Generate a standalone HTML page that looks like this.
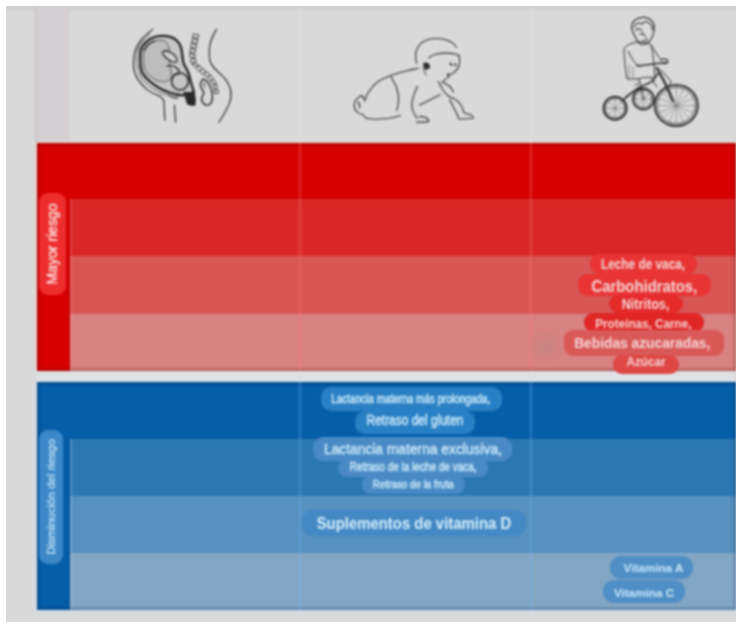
<!DOCTYPE html>
<html><head><meta charset="utf-8">
<style>
html,body{margin:0;padding:0;}
body{width:741px;height:629px;background:#fff;position:relative;overflow:hidden;font-family:"Liberation Sans",sans-serif;}
.a{position:absolute;}
#clip{position:absolute;left:6px;top:6px;width:730px;height:616px;overflow:hidden;}
#all{position:absolute;left:-6px;top:-6px;width:741px;height:629px;filter:blur(0.8px);background:#d9d9d9;}
#panel{left:6px;top:6px;width:730px;height:616px;background:#d9d9d9;}
.pill{position:absolute;border-radius:9px;display:flex;align-items:center;justify-content:center;white-space:nowrap;}
.pill span{display:inline-block;}
.r .pill span{color:#f6d6d6;}
.b .pill span{color:#c8e8fa;}
.vl{position:absolute;width:4px;}

.med{-webkit-text-stroke:0.5px currentColor;}

</style></head><body>
<div id="clip">
<div id="all">
<div id="panel" class="a"></div>
<div class="a" style="left:0;top:5px;width:741px;height:6px;background:linear-gradient(#c9c9c9,rgba(217,217,217,0));"></div>
<!-- header second column tint -->
<div class="a" style="left:35px;top:6px;width:34px;height:136px;background:#d4cfd2;box-shadow:inset 2px 0 1.5px -0.5px rgba(0,0,0,0.06);"></div>

<!-- red block -->
<div class="a" style="left:36.5px;top:142.5px;width:699.5px;height:228px;background:#d60000;box-shadow:0 0 2.5px 1.5px rgba(255,205,205,0.85);overflow:hidden;">
  <div class="a" style="left:33px;top:56.5px;width:666.5px;height:57px;background:#d92727;"></div>
  <div class="a" style="left:33px;top:113.5px;width:666.5px;height:57.5px;background:#d85656;"></div>
  <div class="a" style="left:33px;top:171px;width:666.5px;height:57.5px;background:#d98282;"></div>
  <div class="a" style="left:33px;top:56.5px;width:3px;height:171.5px;background:linear-gradient(90deg,rgba(255,150,150,0.35),rgba(255,150,150,0));"></div>
  <div class="a" style="left:0;top:0;width:699.5px;height:228px;box-shadow:inset 0 0 3px 1.5px rgba(90,0,0,0.42);"></div>
  <div class="a" style="left:30px;top:56.5px;width:3px;height:171.5px;background:linear-gradient(90deg,rgba(90,0,0,0),rgba(90,0,0,0.18));"></div>
</div>

<div class="a" style="left:36px;top:371px;width:700px;height:10.5px;background:#dfe0e3;"></div>

<!-- blue block -->
<div class="a" style="left:36.7px;top:381.5px;width:699.3px;height:228px;background:#055ea8;box-shadow:0 0 2.5px 1.5px rgba(205,228,250,0.85);overflow:hidden;">
  <div class="a" style="left:33px;top:57px;width:666.3px;height:57px;background:#2b78b1;"></div>
  <div class="a" style="left:33px;top:114px;width:666.3px;height:57px;background:#5691bf;"></div>
  <div class="a" style="left:33px;top:171px;width:666.3px;height:57px;background:#83a6c4;"></div>
  <div class="a" style="left:33px;top:57px;width:3px;height:171px;background:linear-gradient(90deg,rgba(180,215,245,0.4),rgba(180,215,245,0));"></div>
  <div class="a" style="left:0;top:0;width:699.3px;height:228px;box-shadow:inset 0 0 3px 1.5px rgba(0,30,70,0.4);"></div>
  <div class="a" style="left:30px;top:57px;width:3px;height:171px;background:linear-gradient(90deg,rgba(0,30,70,0),rgba(0,30,70,0.18));"></div>
</div>

<!-- vertical lines -->
<div class="vl" style="left:297.5px;top:6px;height:136px;background:linear-gradient(90deg,rgba(255,255,255,0),rgba(255,255,255,0.12),rgba(255,255,255,0));"></div>
<div class="vl" style="left:529px;top:6px;height:136px;background:linear-gradient(90deg,rgba(255,255,255,0),rgba(255,255,255,0.12),rgba(255,255,255,0));"></div>
<div class="vl" style="left:297.5px;top:142.5px;height:228px;background:linear-gradient(90deg,rgba(255,125,125,0),rgba(255,125,125,0.35),rgba(255,125,125,0));"></div>
<div class="vl" style="left:529px;top:142.5px;height:228px;background:linear-gradient(90deg,rgba(255,125,125,0),rgba(255,125,125,0.35),rgba(255,125,125,0));"></div>
<div class="vl" style="left:297.5px;top:381.5px;height:228px;background:linear-gradient(90deg,rgba(110,180,255,0),rgba(110,180,255,0.35),rgba(110,180,255,0));"></div>
<div class="vl" style="left:529px;top:381.5px;height:228px;background:linear-gradient(90deg,rgba(110,180,255,0),rgba(110,180,255,0.35),rgba(110,180,255,0));"></div>



<!-- illustrations -->
<svg class="a" style="left:125px;top:20px;" width="120" height="110" viewBox="0 0 120 110" fill="none" stroke-linecap="round" stroke-linejoin="round">
  <g stroke="#222">
    <path d="M27.9 9.4 C22 13.5 18.5 17 16 20.2 C12.5 25 10.3 29 9.6 33.2 C8.6 38 8.3 42 8.5 46.2 C9 51 10.5 55.5 12.8 59.1 C15.5 63.3 18.8 66.8 22.5 69.9 C26.5 72.8 31 75 35.5 76.4 C36.8 77.6 37.9 79 38.7 80.7" stroke-width="1.15"/>
    <path d="M24.7 13.8 C20 17.5 16.5 21.8 13.9 26.7 C12 31.5 11.3 36.5 11.7 41.8 C12.2 47.3 13.7 52.4 16 57 C18.8 61.4 22.5 65 26.8 67.8 C30.9 70.6 35.2 72.7 39.8 74.2 C42 75 44.2 75.8 46.3 76.4" stroke-width="0.9" stroke="#444"/>
    <path d="M38.9 81 C39.2 88 39.5 94 39.8 100.2" stroke-width="1.15"/>
    <path d="M49.5 85 C49.8 91 50.2 96.5 50.6 102.3" stroke-width="1.15"/>
    <!-- uterus -->
    <path d="M15 39.7 C15 35.5 15.2 32 16 28.9 C18 24.5 21 21.5 24.7 19.2 C28.5 17 33 16 37.6 15.9 C41.5 15.8 45.2 16.6 48.4 18.1 C51.2 19.8 53.5 22 54.9 24.6 C56.2 27.4 56.8 30.3 57.1 33.2 C57.5 36.2 57.7 39 58.2 41.8 C59 44.8 60.7 47.6 62.5 50.5 C64 54 65 57.6 65.7 61.3 C66.7 65 67.9 68.6 69 72.1 C65 74 61 75 57.1 75.3 C53.5 75 50 74.3 46.3 73.2 C43.3 72.3 40.4 71.2 37.6 69.9 C33 67.5 28.7 64.8 24.7 61.3 C21.5 58.6 18.9 55.7 17.1 52.6 C15.7 48.5 15 44 15 39.7 Z" fill="#c6c6c6" stroke-width="2.3"/>
    <path d="M18.5 34 C19.5 29 22 25.5 25.5 23 C29.5 20.5 34 19.8 38 20.5 C41.5 21.5 43.5 24 44 28 C44.5 33 44 37 44.5 42 C45.3 48 47 53 46.3 58 C43 62.5 37 62.5 31 60 C25 57 20.5 52.5 19 46.5 C18.3 42.5 18 38 18.5 34 Z" fill="#bdbdbd" stroke="#4a4a4a" stroke-width="0.9"/>
    <path d="M19 30 C21.5 25.5 25 22.5 29.5 21" stroke-width="1.8" stroke="#333"/>
    <path d="M37.6 32.1 C39.5 30 43.5 30.8 47.5 33.5 C50.5 35.5 52.3 38.5 51.7 41.8 C49.5 43 46.5 42 43.5 39.8 C40.5 37.6 37.8 35 37.6 32.1 Z" fill="#cfcfcf" stroke-width="1.3"/>
    <path d="M42 46.2 C44.5 44.8 48.5 45.5 51.5 47.8 C53.5 49.5 54.8 52 54.9 54.8" stroke-width="1.3"/>
    <circle cx="55" cy="61.5" r="8.4" fill="#c3c3c3" stroke-width="1.5"/>
    <path d="M48.5 55 C50 53.8 52 53.6 53.5 54.3" stroke-width="1.1"/>
    <path d="M59.2 72.1 C62.5 73 66 73 69 72.1 L70.2 78 L70 85 C67.5 85.6 64.5 85 62.5 84 C61 80 60 76 59.2 72.1 Z" fill="#262626" stroke-width="1"/>
    <path d="M44.1 72.5 C47 73.8 50 74.8 52.8 75.2 L52.8 78.6 C49.5 78.8 46.5 77.6 44.5 76 Z" fill="#909090" stroke="#444" stroke-width="0.8"/>
    <!-- spine -->
    <path d="M68.2 14.2 L67.6 17.3 L73.1 18.4 L73.7 15.2 Z M67.3 19.1 L66.7 22.3 L72.0 23.3 L72.6 20.1 Z M66.4 24.1 L65.8 27.2 L71.0 28.2 L71.6 25.1 Z M65.5 29.0 L64.8 32.1 L69.9 33.2 L70.5 30.0 Z M64.8 33.9 L65.1 37.1 L69.9 38.1 L69.7 34.9 Z M65.5 39.9 L66.3 43.0 L70.9 41.8 L70.1 38.7 Z M67.2 44.5 L69.4 46.8 L73.9 45.6 L71.7 43.4 Z M71.5 49.1 L73.9 51.2 L76.9 47.8 L74.4 45.7 Z M75.4 52.3 L77.9 54.3 L80.8 51.0 L78.2 49.0 Z M79.5 55.4 L82.1 57.3 L84.6 54.0 L82.1 52.0 Z M83.4 58.5 L85.4 61.0 L87.8 57.8 L85.9 55.3 Z M85.9 61.9 L87.6 64.7 L91.0 62.6 L89.3 59.9 Z M88.4 66.3 L89.1 69.3 L92.3 67.4 L91.6 64.3 Z M89.3 70.3 L89.7 73.5 L93.3 73.1 L92.9 69.9 Z" fill="#e2e2e2" stroke="#2a2a2a" stroke-width="0.9"/>
    <!-- bowel -->
    <path d="M77.6 59.1 C76 61 75 63 75.4 65.6 C75.8 68.5 78 70 78.7 72.1 C79.2 74.5 77 76 76.5 78.6 C76.5 81.5 78.3 84 80.8 85 C83 85.5 85 84.5 86.2 82.9 C87.5 80 87.8 77 87.3 74.2 C86.8 70.5 85.8 67.3 84.1 64.5 C83 62.6 82 61.2 80.8 60.2 Z" fill="#d6d6d6" stroke-width="1.4"/>
    <path d="M79.5 62.5 C78.6 64 78.8 65.8 80 67" stroke-width="1"/>
    <!-- back -->
    <path d="M91.6 9.4 C89.2 13 87.4 16.5 86.2 20.2 C85 23.8 84.3 27.4 84.1 31 C84 34.7 84.3 38.3 85.2 41.8 C86.5 45 88.7 47.9 91.6 50.5 C94.6 53.2 97.8 56 100.3 59.1 C102.8 62.5 104.7 66 105.7 69.9 C106.5 74.3 105.9 78.7 104.6 82.9 C103.1 86.8 101.3 90.4 99.2 93.7 C97.5 96.6 95.7 99.5 93.8 102.3" stroke-width="1.15"/>
  </g>
</svg>

<svg class="a" style="left:350px;top:30px;" width="130" height="100" viewBox="0 0 130 100" fill="none" stroke-linecap="round" stroke-linejoin="round">
  <g stroke="#2c2c2c" stroke-width="1.1">
    <path d="M66.6 33.5 C65.6 29 65.4 26 65.6 24 C66 20.5 67 18.5 68.4 16.5 C70.5 13.5 72.5 12 75 10.8 C78 9.3 81 8.6 84.5 8.5 C88.5 8.4 92.5 8.8 95.9 9.8 C99 10.8 101.5 12 103.4 13.6 C104.8 14.8 105.7 16 106.3 17.4"/>
    <path d="M78.8 27.8 C81 26 83.5 24.6 86.4 24 C89.5 23.3 92.8 23 95.9 23.1 C99 23.2 102.3 23.5 105.3 24 C107 24.4 108.2 25 109.1 25.9"/>
    <path d="M109.1 25.9 C109.6 28.5 109.8 31 109.5 33.5 C109.2 35.8 108.4 37.6 107.2 39.1 C106 40.8 104.8 42 103.4 42.9 C102 43.8 100.8 44.4 99.6 44.8 M96.5 48 C95 50 93.8 51.3 92.1 52.4"/>
    <path d="M100 33.5 L101.8 35.2 M104.8 34 L106 35.5" stroke-width="1.6"/>
    <path d="M97.8 44 C98.6 45.5 99 46.5 98.4 47.3" stroke-width="1.7"/>
    <path d="M73.8 33.5 C76 32.5 78.5 33.5 79.5 36 C79.5 38.5 77 39.5 74.5 38.6 Z" fill="#2c2c2c" stroke-width="1.3"/>
    <path d="M73 39 C74.5 41 75.5 43 75.8 45" stroke-width="0.9"/>
    <path d="M68.4 38.2 C64 39.2 60 40 56.2 41 C51.5 42.2 47 43.4 42.9 44.8 C38.8 46.2 35 47.8 31.6 49.5 C28.5 51.2 26 53 24 55.2 C22.5 56.8 21.2 58.4 20.2 60"/>
    <path d="M20.2 60 C18.5 62 17.3 63.8 16.5 65.6 C15.8 67.5 15.1 69.4 14.6 71.3"/>
    <path d="M10.8 65.6 C8.5 67 6.5 69 5.1 71.3 C4.2 73.5 4 75.5 4.2 77 C4.8 79.5 6.2 81.3 8 82.6 C9.5 83.6 11 84.2 12.7 84.5 M10.8 65.6 C12.5 66 13.8 67.5 14.2 69.5 M8 72 C9.5 73.5 10 75.5 9.5 78"/>
    <path d="M16.5 88.3 C20 89 24 89.3 27.8 89.2 C31.8 89.1 35.6 88.8 39.1 88.3 C43 87.6 46.8 86.6 50.5 85.5"/>
    <path d="M12.7 84.5 C13.8 86 15 87.3 16.5 88.3"/>
    <path d="M41 46.7 C43.2 50.5 45.3 54.3 46.7 58 C48 61.8 48.7 65.6 48.6 69.4 C48.5 73.2 47.8 77 46.7 80.7"/>
    <path d="M67.5 56.2 C66 59.3 64.7 62.4 63.7 65.6 C62.6 68.7 62 71.8 61.8 75 C61.7 78.2 62.7 81.5 64.7 84.5 C65.5 85.8 66.4 87.1 67.5 88.3"/>
    <path d="M69.4 86.4 C72 86.4 74.8 87 77 88.3 C78 89.2 78.8 90.1 78.8 91.1 C77 92 75 92.2 73.2 92.1 C71 92.1 68.8 92.1 66.6 92.1" stroke-width="1.2"/>
    <path d="M69.4 75 C73.2 73.2 77 71.3 80.7 69.4 C84 67.7 87 66.2 90.2 64.7"/>
    <path d="M88.3 51.4 C89.8 54.3 91.4 57.2 93 60 C94.5 62 96.1 64 97.8 65.6 C100.3 67 102.8 68.2 105.3 69.4 C107.5 71 109.5 73 111 75 C112.3 77.5 113.2 80 113.8 82.6 C116.6 83.5 119.5 84.4 122.3 85.5 C123 86.4 123.3 87.4 123.3 88.3 C118.6 88.6 113.8 88.9 109.1 89.2 C108.3 87.6 107.7 86 107.2 84.5 C106 81.9 104.7 79.4 103.4 77 C102.2 74.5 100.9 72 99.6 69.4"/>
    <path d="M93 52.4 C95.2 53.7 97.4 54.9 99.6 56.2 C101 58 102.3 59.9 103.4 61.8"/>
  </g>
</svg>

<svg class="a" style="left:595px;top:15px;" width="110" height="115" viewBox="0 0 110 115" fill="none" stroke-linecap="round" stroke-linejoin="round">
  <g stroke="#333" stroke-width="1.2">
    <!-- big wheel -->
    <ellipse cx="81.3" cy="90.5" rx="21.5" ry="20.5" stroke-width="2"/>
    <ellipse cx="81.3" cy="90.5" rx="19" ry="18" stroke-width="0.8"/>
    <path d="M81.3 90.5 L81.3 72 M81.3 90.5 L81.3 109 M81.3 90.5 L62.5 90.5 M81.3 90.5 L100 90.5 M81.3 90.5 L68 77.5 M81.3 90.5 L94.6 103.5 M81.3 90.5 L94.6 77.5 M81.3 90.5 L68 103.5 M81.3 90.5 L74 73.5 M81.3 90.5 L88.6 107.5 M81.3 90.5 L88.6 73.5 M81.3 90.5 L74 107.5 M81.3 90.5 L63.5 83 M81.3 90.5 L99 98 M81.3 90.5 L99 83 M81.3 90.5 L63.5 98" stroke-width="0.6" stroke="#777"/>
    <!-- left wheel -->
    <circle cx="20.1" cy="93.2" r="11.5" stroke-width="2"/>
    <circle cx="20.1" cy="93.2" r="9.5" stroke-width="0.7"/>
    <path d="M20.1 93.2 L20.1 84 M20.1 93.2 L20.1 102.5 M20.1 93.2 L11 93.2 M20.1 93.2 L29 93.2 M20.1 93.2 L13.6 86.7 M20.1 93.2 L26.6 99.7 M20.1 93.2 L26.6 86.7 M20.1 93.2 L13.6 99.7" stroke-width="0.6" stroke="#666"/>
    <!-- middle wheel -->
    <circle cx="48.4" cy="84" r="10.5" stroke-width="1.8"/>
    <circle cx="48.4" cy="84" r="8.5" stroke-width="0.7"/>
    <path d="M48.4 84 L48.4 75.5 M48.4 84 L48.4 92.5 M48.4 84 L40 84 M48.4 84 L57 84 M48.4 84 L42.5 78 M48.4 84 L54.3 90 M48.4 84 L54.3 78 M48.4 84 L42.5 90" stroke-width="0.6" stroke="#666"/>
    <!-- frame -->
    <path d="M27 86 L42 74 L58 66 L64 57" stroke-width="1.4"/>
    <path d="M30 82 L44 72" stroke-width="1"/>
    <path d="M62 53 L70 68 L78 86" stroke-width="2.6" stroke="#3a3a3a"/>
    <path d="M66 55 L72 62 L76 66 L75 70" stroke-width="1"/>
    <path d="M40 70 L44 68 M44 71 L49 84" stroke-width="1"/>
    <!-- handlebar -->
    <path d="M42 51 L58 49 L71 47.5" stroke-width="1.3"/>
    <path d="M66 45 C69 43 73 44 73 47 C72 49 69 49 67 48" stroke-width="1.2"/>
    <!-- head -->
    <path d="M38 17 C35 12 37 6 42 4 C46 1.5 52 2 56 5 C59 8 60 12 59 16 C58 21 56 25 53 28 C50 30 46 30 44 28 C42 26 40 22 38 17 Z" stroke-width="1.2"/>
    <path d="M39 12 C41 8 44 7 47 9 C49 6 53 6 55 9 C57 10 58 12 57 15 M41 15 C43 13 46 14 47 16" stroke-width="1.1"/>
    <path d="M45 19 C47 18 49 19 50 21 M51 23 L52 25.5 M47 26 L50 26" stroke-width="1.1"/>
    <!-- body -->
    <path d="M38 28 C34 29 31 31 29 34 C29 40 30 46 30 50 C31 56 31 60 32 64 L44 64 C46 62 52 62 60 63 L59 50 C58 42 58 36 56 30 C52 27 46 27 42 27 Z" stroke-width="1"/>
    <path d="M33 36 C35 40 38 46 42 50 L46 51" stroke-width="1"/>
    <path d="M56 30 C59 34 62 40 66 45" stroke-width="1"/>
    <path d="M34 50 L34 64 M38 52 L38 64" stroke-width="0.8" stroke="#777"/>
    <!-- legs -->
    <path d="M44 64 C45 68 47 72 48 76 M56 63 C58 67 61 70 62 72" stroke-width="1"/>
  </g>
</svg>

<div class="a" style="left:526px;top:328px;width:40px;height:38px;background:radial-gradient(ellipse at center,rgba(150,135,135,0.28),rgba(150,135,135,0) 70%);"></div>
<!-- side labels -->
<div class="pill" style="left:38.5px;top:192.5px;width:27.5px;height:102px;background:#ee2d2d;border-radius:9px;">
  <span class="med" style="transform:rotate(-90deg);font-size:14px;color:#fbe4e4;-webkit-text-stroke:0.35px #fbe4e4;">Mayor riesgo</span></div>
<div class="pill" style="left:39px;top:430px;width:24px;height:134px;background:#3b87c7;border-radius:9px;">
  <span class="med" style="transform:rotate(-90deg);font-size:11.5px;color:#bfe2f8;-webkit-text-stroke:0.3px #bfe2f8;">Disminución del riesgo</span></div>

<!-- red col3 pills -->
<div class="r">
<div class="pill" style="left:590px;top:253.5px;width:107px;height:20px;background:#e83434;"><span style="font-size:13.5px;font-weight:bold;transform:scale(.875,1.03);position:relative;top:1.2px;">Leche de vaca,</span></div>
<div class="pill" style="left:578px;top:273.5px;width:132.5px;height:22.5px;background:#e83434;"><span style="font-size:15px;font-weight:bold;transform:scale(.99,1.1);position:relative;top:0.5px;">Carbohidratos,</span></div>
<div class="pill" style="left:608.5px;top:295px;width:74px;height:18px;background:#e42a2a;"><span style="font-size:13px;font-weight:bold;transform:scale(.97,1.07);position:relative;top:0.6px;">Nitritos,</span></div>
<div class="pill" style="left:584px;top:312.5px;width:119.5px;height:19px;background:#e02626;"><span style="font-size:12px;font-weight:bold;transform:scale(.975,1.05);position:relative;top:1.6px;">Proteinas, Carne,</span></div>
<div class="pill" style="left:563.5px;top:329.5px;width:160.5px;height:26.5px;background:#d95858;"><span style="font-size:14px;font-weight:bold;transform:scale(.983,1.07);position:relative;top:0.5px;left:-1px;">Bebidas azucaradas,</span></div>
<div class="pill" style="left:613px;top:355px;width:65.5px;height:18.5px;background:#df4646;"><span style="font-size:12px;font-weight:bold;transform:scale(.97,1.03);position:relative;top:-2px;">Azúcar</span></div>
</div>

<!-- blue col2 pills -->
<div class="b">
<div class="pill" style="left:320.5px;top:386.5px;width:181px;height:24.5px;background:#2a80c4;border-radius:10px;"><span class="med" style="font-size:12px;transform:scaleX(.83);position:relative;top:0.5px;">Lactancia materna más prolongada,</span></div>
<div class="pill" style="left:354.5px;top:410.5px;width:120.5px;height:23.5px;background:#2a80c4;border-radius:10px;"><span class="med" style="font-size:13.8px;transform:scaleX(.865);position:relative;top:-2.2px;">Retraso del gluten</span></div>
<div class="pill" style="left:313px;top:437px;width:199px;height:24px;background:#4a8ac4;border-radius:10px;"><span class="med" style="font-size:15.5px;transform:scaleX(.89);position:relative;top:-0.5px;">Lactancia materna exclusiva,</span></div>
<div class="pill" style="left:338px;top:459px;width:150px;height:18px;background:#4a8ac4;border-radius:9px;"><span class="med" style="font-size:12.5px;transform:scaleX(.80);position:relative;top:-1.5px;">Retraso de la leche de vaca,</span></div>
<div class="pill" style="left:361.5px;top:475px;width:103.5px;height:18.7px;background:#4a8ac4;border-radius:9px;"><span class="med" style="font-size:11.5px;transform:scaleX(.855);position:relative;top:-0.8px;">Retraso de la fruta</span></div>
<div class="pill" style="left:302px;top:509.5px;width:223.5px;height:26.5px;background:#4488c4;border-radius:11px;"><span style="font-size:15px;font-weight:bold;transform:scale(.993,1.08);position:relative;top:0.8px;color:#d6f0fc;">Suplementos de vitamina D</span></div>
<div class="pill" style="left:610px;top:555.5px;width:83px;height:23px;background:#4f8fc6;border-radius:11px;"><span style="font-size:11.7px;font-weight:bold;position:relative;top:0.8px;left:2px;">Vitamina A</span></div>
<div class="pill" style="left:602.5px;top:580px;width:82px;height:23px;background:#4f8fc6;border-radius:11px;"><span style="font-size:11.7px;font-weight:bold;position:relative;top:1px;left:0.5px;">Vitamina C</span></div>
</div>
</div>
</div>
</body></html>
